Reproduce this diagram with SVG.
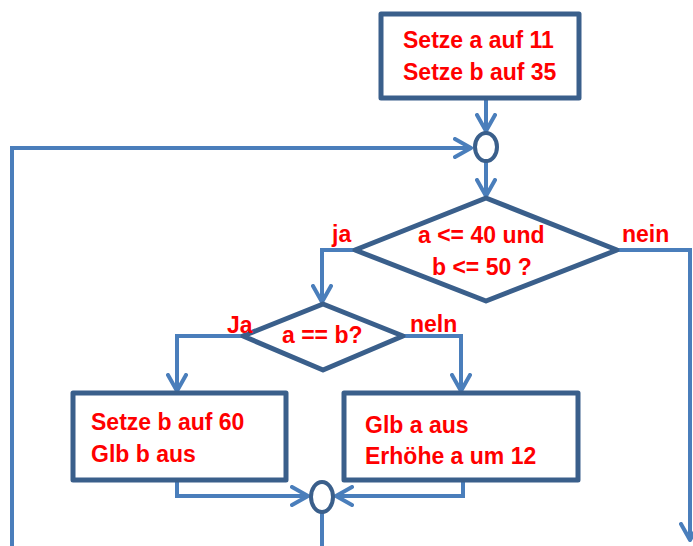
<svg xmlns="http://www.w3.org/2000/svg" width="693" height="546" viewBox="0 0 693 546">
<style>
.node{fill:#fff;stroke:#3A5F8B;stroke-width:5;stroke-linejoin:round}
.merge{fill:#fff;stroke:#3A5F8B;stroke-width:4}
.t{font-family:"Liberation Sans",Arial,sans-serif;font-weight:bold;font-size:23px;fill:#FF0000}
.c{fill:none;stroke:#4A7EBB;stroke-width:4}
</style>
<defs>
<marker id="ah" viewBox="0 0 20 22" refX="18" refY="11" markerWidth="20" markerHeight="22" markerUnits="userSpaceOnUse" orient="auto">
<path d="M2,2 L18,11 L2,20" fill="none" stroke="#4A7EBB" stroke-width="4" stroke-linecap="round" stroke-linejoin="round"/>
</marker>
</defs>
<rect width="693" height="546" fill="#fff"/>
<g id="connectors">
<path class="c" d="M486,98 V131" marker-end="url(#ah)"/>
<path class="c" d="M12,546 V148 H471" marker-end="url(#ah)"/>
<path class="c" d="M486,162 V196" marker-end="url(#ah)"/>
<path class="c" d="M355,250 H322 V302" marker-end="url(#ah)"/>
<path class="c" d="M617,250 H690 V540" marker-end="url(#ah)"/>
<path class="c" d="M243,336 H177 V391" marker-end="url(#ah)"/>
<path class="c" d="M403,336 H461 V391" marker-end="url(#ah)"/>
<path class="c" d="M177,480 V496 H308" marker-end="url(#ah)"/>
<path class="c" d="M463,480 V496 H336" marker-end="url(#ah)"/>
<path class="c" d="M322,512 V546"/>
</g>
<g id="start">
<rect class="node" x="381" y="14" width="198" height="84"/>
<text class="t" x="403" y="48">Setze a auf 11</text>
<text class="t" x="403" y="80">Setze b auf 35</text>
</g>
<g id="merge1">
<ellipse class="merge" cx="486" cy="147" rx="11" ry="14"/>
</g>
<g id="cond1">
<polygon class="node" points="486,198 617,250 486,301 355,250"/>
<text class="t" x="418" y="243">a &lt;= 40 und</text>
<text class="t" x="432" y="275">b &lt;= 50 ?</text>
<text class="t" x="332" y="242">ja</text>
<text class="t" x="622" y="242">nein</text>
</g>
<g id="cond2">
<polygon class="node" points="323,304 403,336 323,370 243,336"/>
<text class="t" x="282" y="343">a == b?</text>
<text class="t" x="227" y="333">Ja</text>
<text class="t" x="410" y="332">neln</text>
</g>
<g id="boxLeft">
<rect class="node" x="73" y="393" width="213" height="87"/>
<text class="t" x="91" y="430">Setze b auf 60</text>
<text class="t" x="91" y="462">Glb b aus</text>
</g>
<g id="boxRight">
<rect class="node" x="344" y="393" width="234" height="87"/>
<text class="t" x="365" y="433">Glb a aus</text>
<text class="t" x="365" y="464">Erhöhe a um 12</text>
</g>
<g id="merge2">
<ellipse class="merge" cx="322" cy="497" rx="11" ry="15"/>
</g>
</svg>
